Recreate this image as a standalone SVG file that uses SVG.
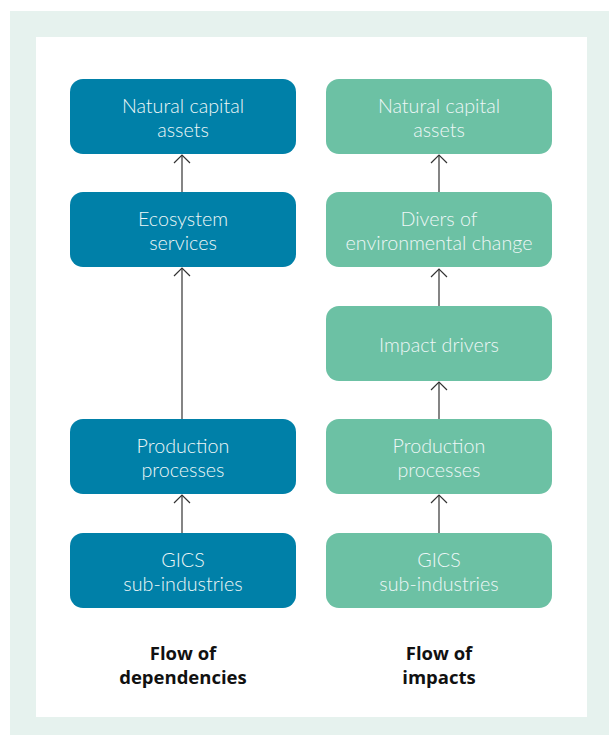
<svg xmlns="http://www.w3.org/2000/svg" width="609" height="735" viewBox="0 0 609 735">
<style>
.dep{fill:#0080a8}
.imp{fill:#6cc1a4}
.t{font-family:Lato,"Open Sans",sans-serif;font-weight:300;font-size:19.7px;fill:#eef7f7;text-anchor:middle}
.lbl{font-family:"Open Sans",Lato,sans-serif;font-weight:700;font-size:18.5px;fill:#111;text-anchor:middle}
.c{stroke:#333;stroke-width:1.2;fill:none}
</style>
<defs>
<marker id="ah" viewBox="-10 -10 12 20" refX="0" refY="0" markerWidth="12" markerHeight="20" markerUnits="userSpaceOnUse" orient="auto">
<polyline points="-8,-8 0,0 -8,8" fill="none" stroke="#333" stroke-width="1.2"/>
</marker>
</defs>
<rect x="10" y="11" width="599" height="724" fill="#e6f2ee"/>
<rect x="36" y="37" width="551" height="680" fill="#ffffff"/>
<g id="connectors">
<line class="c" x1="182" y1="192" x2="182" y2="155" marker-end="url(#ah)"/>
<line class="c" x1="182" y1="419" x2="182" y2="268" marker-end="url(#ah)"/>
<line class="c" x1="182" y1="533" x2="182" y2="495" marker-end="url(#ah)"/>
<line class="c" x1="439" y1="192" x2="439" y2="155" marker-end="url(#ah)"/>
<line class="c" x1="439" y1="306" x2="439" y2="269" marker-end="url(#ah)"/>
<line class="c" x1="439" y1="419" x2="439" y2="382" marker-end="url(#ah)"/>
<line class="c" x1="439" y1="533" x2="439" y2="495" marker-end="url(#ah)"/>
</g>
<g id="dep-natural"><rect class="dep" x="70" y="79" width="226" height="75" rx="13"/><text class="t" x="183" y="113">Natural capital</text><text class="t" x="183" y="137">assets</text></g>
<g id="dep-ecosystem"><rect class="dep" x="70" y="192" width="226" height="75" rx="13"/><text class="t" x="183" y="226">Ecosystem</text><text class="t" x="183" y="250">services</text></g>
<g id="dep-production"><rect class="dep" x="70" y="419" width="226" height="75" rx="13"/><text class="t" x="183" y="453">Production</text><text class="t" x="183" y="477">processes</text></g>
<g id="dep-gics"><rect class="dep" x="70" y="533" width="226" height="75" rx="13"/><text class="t" x="183" y="567">GICS</text><text class="t" x="183" y="591">sub-industries</text></g>
<g id="imp-natural"><rect class="imp" x="326" y="79" width="226" height="75" rx="13"/><text class="t" x="439" y="113">Natural capital</text><text class="t" x="439" y="137">assets</text></g>
<g id="imp-divers"><rect class="imp" x="326" y="192" width="226" height="75" rx="13"/><text class="t" x="439" y="226">Divers of</text><text class="t" x="439" y="250">environmental change</text></g>
<g id="imp-drivers"><rect class="imp" x="326" y="306" width="226" height="75" rx="13"/><text class="t" x="439" y="352">Impact drivers</text></g>
<g id="imp-production"><rect class="imp" x="326" y="419" width="226" height="75" rx="13"/><text class="t" x="439" y="453">Production</text><text class="t" x="439" y="477">processes</text></g>
<g id="imp-gics"><rect class="imp" x="326" y="533" width="226" height="75" rx="13"/><text class="t" x="439" y="567">GICS</text><text class="t" x="439" y="591">sub-industries</text></g>
<g id="label-dep"><text class="lbl" x="183" y="660">Flow of</text><text class="lbl" x="183" y="684">dependencies</text></g>
<g id="label-imp"><text class="lbl" x="439" y="660">Flow of</text><text class="lbl" x="439" y="684">impacts</text></g>
</svg>
